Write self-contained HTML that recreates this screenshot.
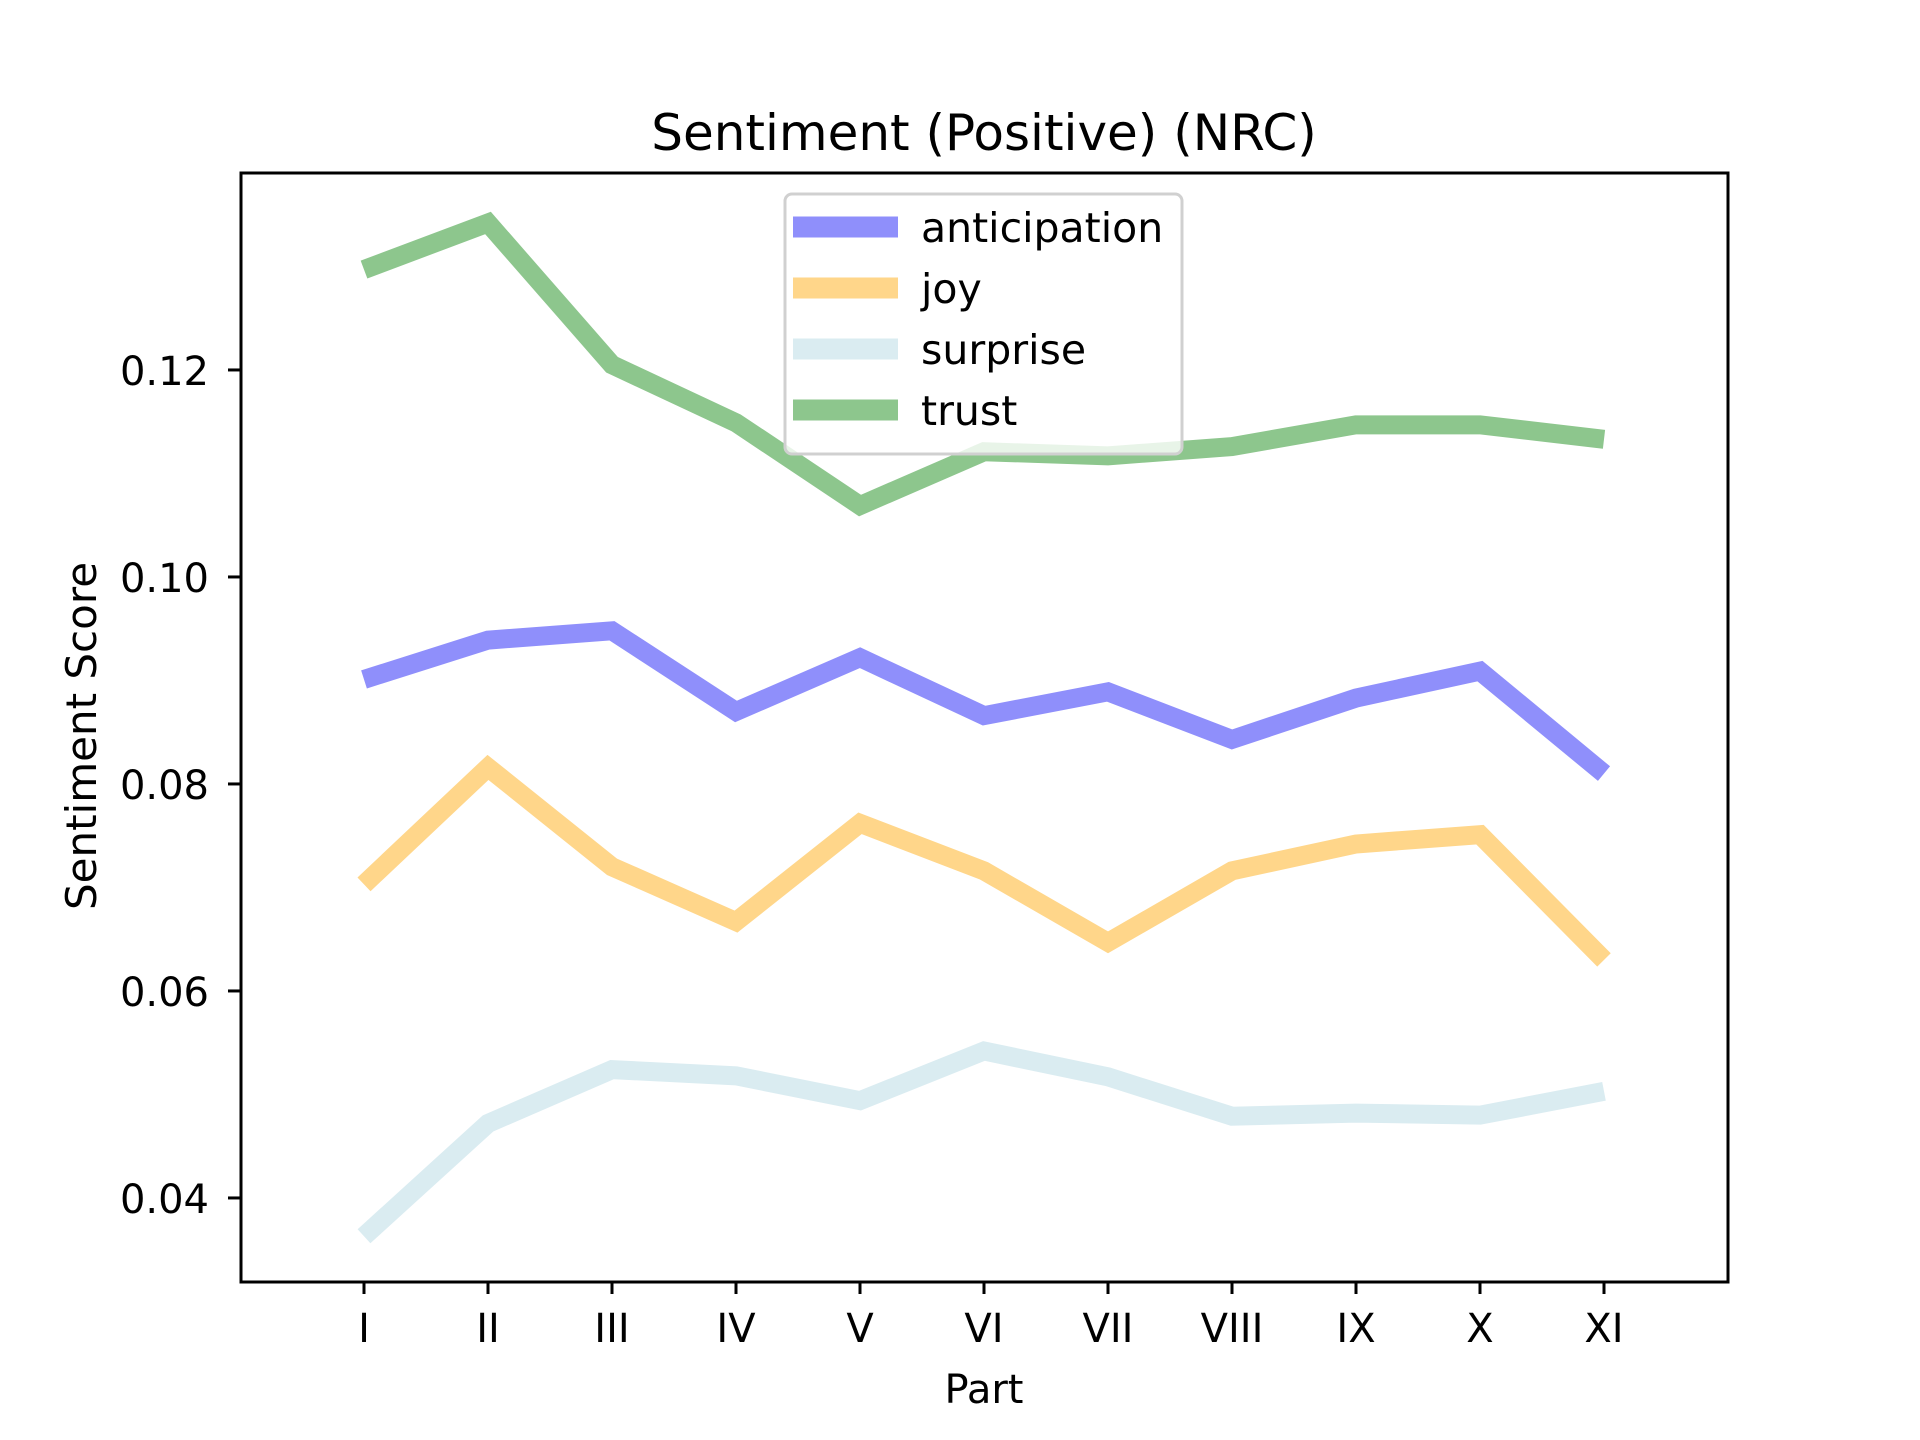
<!DOCTYPE html>
<html><head><meta charset="utf-8"><style>
body{margin:0;background:#fff}
svg{display:block;font-family:"DejaVu Sans","Liberation Sans",sans-serif}
</style></head><body>
<svg id="chart" width="1920" height="1440" viewBox="0 0 1920 1440">
<rect width="1920" height="1440" fill="#fff"/>
<text x="984" y="150" font-size="50" text-anchor="middle">Sentiment (Positive) (NRC)</text>
<g id="plot"></g>
<rect x="241" y="173" width="1487" height="1109" fill="none" stroke="#000" stroke-width="3"/>
<text x="984" y="1403" font-size="40" text-anchor="middle">Part</text>
<text transform="translate(96,736) rotate(-90)" font-size="42" text-anchor="middle">Sentiment Score</text>
<g id="legend">
<rect x="785" y="194" width="397" height="260" rx="7" fill="#fff" fill-opacity="0.8" stroke="#d0d0d0" stroke-width="3"/>
</g>
</svg>
<script>
const categories = ["I","II","III","IV","V","VI","VII","VIII","IX","X","XI"];
const anticipation = [0.0901,0.0939,0.0948,0.0870,0.0922,0.0866,0.0889,0.0843,0.0883,0.0909,0.0810];
const joy = [0.0703,0.0816,0.0720,0.0667,0.0762,0.0716,0.0647,0.0716,0.0742,0.0751,0.0630];
const surprise = [0.0363,0.0472,0.0524,0.0518,0.0494,0.0542,0.0517,0.0479,0.0482,0.0480,0.0503];
const trust = [0.1297,0.1342,0.1205,0.1149,0.1069,0.1121,0.1117,0.1126,0.1147,0.1147,0.1133];
const yTicks = [0.04,0.06,0.08,0.10,0.12];
const yTickLabels = ["0.04","0.06","0.08","0.10","0.12"];
const seriesNames = ["anticipation","joy","surprise","trust"];

const NS="http://www.w3.org/2000/svg";
const L=240,R=1728,T=173,B=1282, YMIN=0.03188, YMAX=0.13903;
function xs(i){return L+(i+1)*(R-L)/(categories.length+1);}
function ys(v){return B-(v-YMIN)/(YMAX-YMIN)*(B-T);}
const plot=document.getElementById('plot');
function mk(tag,attrs,parent){const e=document.createElementNS(NS,tag);for(const k in attrs)e.setAttribute(k,attrs[k]);parent.appendChild(e);return e;}
const colors={anticipation:"#8f8ffb",joy:"#ffd68a",surprise:"#daecf1",trust:"#8dc68d"};
const data={anticipation,joy,surprise,trust};
seriesNames.forEach(n=>{
  const p=mk('polyline',{points:data[n].map((v,i)=>xs(i)+","+ys(v)).join(" "),fill:"none",stroke:colors[n],"stroke-width":19},plot);
  
  
});
const svg=document.getElementById('chart');
categories.forEach((c,i)=>{
  const t=mk('line',{x1:xs(i),x2:xs(i),y1:B,y2:B+12,stroke:"#000","stroke-width":3},svg);
  
  
  const l=mk('text',{x:xs(i),y:1342,"font-size":40,"text-anchor":"middle"},svg);
  l.textContent=c;
  
  
});
yTicks.forEach((v,i)=>{
  const t=mk('line',{x1:L-12,x2:L,y1:ys(v),y2:ys(v),stroke:"#000","stroke-width":3},svg);
  
  
  const l=mk('text',{x:L-31,y:ys(v)+15,"font-size":40,"text-anchor":"end"},svg);
  l.textContent=yTickLabels[i];
  
  
});
const lg=document.getElementById('legend');
seriesNames.forEach((n,i)=>{
  const y=227+i*61;
  const h=mk('line',{x1:793,x2:898,y1:y,y2:y,stroke:colors[n],"stroke-width":21},lg);
  
  
  const t=mk('text',{x:921,y:y+15,"font-size":41},lg);
  t.textContent=n;
  
  
});
</script>
</body></html>
